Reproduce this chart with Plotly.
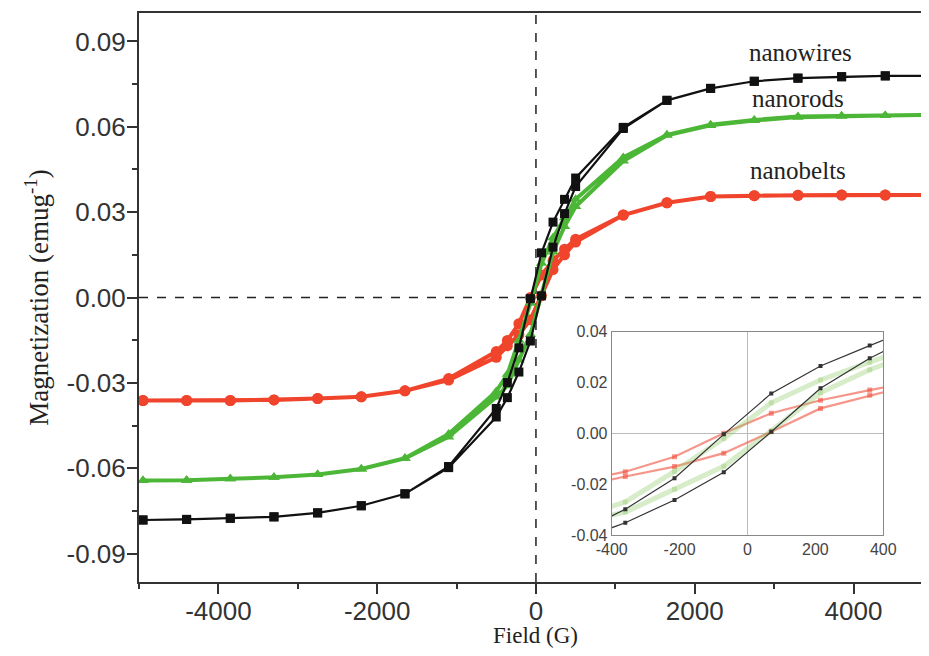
import plotly.graph_objects as go

# Field values (G): descending branch, ascending branch is the reverse order
field_desc = [4950, 4400, 3850, 3300, 2750, 2200, 1650, 1100, 500, 360, 215, 70,
              -70, -215, -360, -500, -1100, -1650, -2200, -2750, -3300, -3850, -4400, -4950]
field_asc = list(reversed(field_desc))

# nanowires (black squares)
wires_desc = [0.0779, 0.0779, 0.0776, 0.0771, 0.0760, 0.0735, 0.0693, 0.0598, 0.0420, 0.0345, 0.0265, 0.0157,
              -0.0004, -0.0177, -0.0299, -0.0390, -0.0594, -0.0690, -0.0732, -0.0757, -0.0771, -0.0776, -0.0780, -0.0782]
wires_asc = [-0.0782, -0.0780, -0.0776, -0.0771, -0.0757, -0.0732, -0.0690, -0.0598, -0.0420, -0.0352, -0.0262, -0.0153,
             0.0006, 0.0177, 0.0295, 0.0390, 0.0594, 0.0693, 0.0735, 0.0760, 0.0771, 0.0776, 0.0779, 0.0779]

# nanorods (green triangles)
rods_desc = [0.0642, 0.0640, 0.0638, 0.0636, 0.0624, 0.0607, 0.0572, 0.0492, 0.0345, 0.0280, 0.0210, 0.0120,
             -0.0020, -0.0150, -0.0270, -0.0330, -0.0480, -0.0565, -0.0603, -0.0622, -0.0632, -0.0637, -0.0642, -0.0643]
rods_asc = [-0.0643, -0.0642, -0.0637, -0.0632, -0.0622, -0.0603, -0.0565, -0.0490, -0.0350, -0.0310, -0.0220, -0.0130,
            0.0010, 0.0160, 0.0250, 0.0320, 0.0480, 0.0570, 0.0605, 0.0622, 0.0634, 0.0638, 0.0640, 0.0642]

# nanobelts (red circles)
belts_desc = [0.0360, 0.0360, 0.0360, 0.0359, 0.0358, 0.0355, 0.0333, 0.0290, 0.0205, 0.0170, 0.0130, 0.0079,
              0.0000, -0.0092, -0.0151, -0.0190, -0.0285, -0.0328, -0.0349, -0.0355, -0.0360, -0.0362, -0.0362, -0.0362]
belts_asc = [-0.0362, -0.0362, -0.0362, -0.0360, -0.0355, -0.0349, -0.0328, -0.0290, -0.0210, -0.0170, -0.0131, -0.0078,
             0.0006, 0.0098, 0.0150, 0.0195, 0.0290, 0.0333, 0.0355, 0.0358, 0.0359, 0.0360, 0.0360, 0.0360]

x_ticks = [-4000, -2000, 0, 2000, 4000]
y_ticks = [-0.09, -0.06, -0.03, 0.00, 0.03, 0.06, 0.09]
y_tick_text = ["-0.09", "-0.06", "-0.03", "0.00", "0.03", "0.06", "0.09"]
inset_x_ticks = [-400, -200, 0, 200, 400]
inset_y_ticks = [-0.04, -0.02, 0.00, 0.02, 0.04]
inset_y_text = ["-0.04", "-0.02", "0.00", "0.02", "0.04"]

labels = ["nanowires", "nanorods", "nanobelts"]
label_pos = [(3330, 0.0862), (3300, 0.0700), (3300, 0.0447)]
x_title = "Field (G)"
y_title = "Magnetization (emug<sup>-1</sup>)"

series = [
    ("nanobelts", belts_desc, belts_asc, "#f0442c", "circle", 11, 4.0),
    ("nanorods", rods_desc, rods_asc, "#4cb637", "triangle-up", 10, 4.0),
    ("nanowires", wires_desc, wires_asc, "#111111", "square", 9, 2.2),
]

inset_style = {
    "nanobelts": dict(color="rgba(240,80,60,0.6)", width=2.2, msize=5),
    "nanorods": dict(color="rgba(140,200,100,0.35)", width=5, msize=5),
    "nanowires": dict(color="#333333", width=1.2, msize=4),
}

fig = go.Figure()
for name, ydesc, yasc, col, sym, ms, lw in series:
    fig.add_trace(go.Scatter(
        x=field_desc + field_asc, y=ydesc + yasc, mode="lines+markers", name=name,
        line=dict(color=col, width=lw), marker=dict(symbol=sym, size=ms, color=col),
        cliponaxis=False, xaxis="x", yaxis="y", showlegend=False))

for name, ydesc, yasc, col, sym, ms, lw in series:
    st = inset_style[name]
    xs, ys = [], []
    for f, v in zip(field_desc + field_asc, ydesc + yasc):
        if abs(f) <= 1100:
            xs.append(f); ys.append(v)
        else:
            xs.append(None); ys.append(None)
    fig.add_trace(go.Scatter(
        x=xs, y=ys, mode="lines+markers", connectgaps=False,
        line=dict(color=st["color"], width=st["width"]),
        marker=dict(symbol="square", size=st["msize"], color=st["color"]),
        xaxis="x2", yaxis="y2", showlegend=False))

# page body has an 8px margin on every side; the figure is sized so the page does not scroll
fig.update_layout(
    width=913, height=640,
    margin=dict(l=131, r=0, t=5, b=66, autoexpand=False),
    paper_bgcolor="white", plot_bgcolor="white",
    xaxis=dict(range=[-5000, 4850], domain=[0, 1], tickvals=x_ticks, ticktext=[str(v) for v in x_ticks],
               ticks="outside", ticklen=10, tickwidth=1.5, tickcolor="#333", ticklabelstandoff=-5,
               minor=dict(dtick=1000, tick0=-5000, ticks="outside", ticklen=5, tickcolor="#333", tickwidth=1.5),
               showline=True, linecolor="#333", linewidth=2, mirror=True, showgrid=False, zeroline=False,
               tickfont=dict(family="Liberation Sans, Arial", size=26, color="#333333")),
    yaxis=dict(range=[-0.1, 0.1], domain=[0, 1], tickvals=y_ticks, ticktext=y_tick_text,
               ticks="outside", ticklen=10, tickwidth=1.5, tickcolor="#333", ticklabelstandoff=-4,
               minor=dict(dtick=0.015, tick0=0.015, ticks="outside", ticklen=5, tickcolor="#333", tickwidth=1.5),
               showline=True, linecolor="#333", linewidth=2, showgrid=False, zeroline=False,
               tickfont=dict(family="Liberation Sans, Arial", size=26, color="#333333"),
               title=dict(text=y_title,
                          font=dict(family="Liberation Serif, Times New Roman", size=27, color="#222"),
                          standoff=10)),
    xaxis2=dict(range=[-400, 400], domain=[0.6045, 0.9518], anchor="y2", tickvals=inset_x_ticks,
                ticktext=[str(v) for v in inset_x_ticks], ticks="", showline=True, mirror=True,
                linecolor="#888", linewidth=1, showgrid=False, zeroline=True, zerolinecolor="#bbb",
                zerolinewidth=1, tickfont=dict(family="Liberation Sans, Arial", size=16, color="#444")),
    yaxis2=dict(range=[-0.04, 0.04], domain=[0.0826, 0.44], anchor="x2", tickvals=inset_y_ticks,
                ticktext=inset_y_text, ticks="", showline=True, mirror=True,
                linecolor="#888", linewidth=1, showgrid=False, zeroline=True, zerolinecolor="#bbb",
                zerolinewidth=1, tickfont=dict(family="Liberation Sans, Arial", size=16, color="#444")),
)

fig.add_shape(type="line", xref="x", yref="paper", x0=0, x1=0, y0=0, y1=1,
              line=dict(color="#222", width=1.5, dash="dash"), layer="below")
fig.add_shape(type="line", xref="paper", yref="y", x0=0, x1=1, y0=0, y1=0,
              line=dict(color="#222", width=1.5, dash="dash"), layer="below")

for txt, (lx, ly) in zip(labels, label_pos):
    fig.add_annotation(x=lx, y=ly, xref="x", yref="y", text=txt, showarrow=False,
                       font=dict(family="Liberation Serif, Times New Roman", size=25, color="#222"))

fig.add_annotation(x=0, y=-0.0942, xref="x", yref="paper", text=x_title, showarrow=False,
                   yanchor="middle", xanchor="center",
                   font=dict(family="Liberation Serif, Times New Roman", size=23, color="#222"))

fig.write_html("out.html")
